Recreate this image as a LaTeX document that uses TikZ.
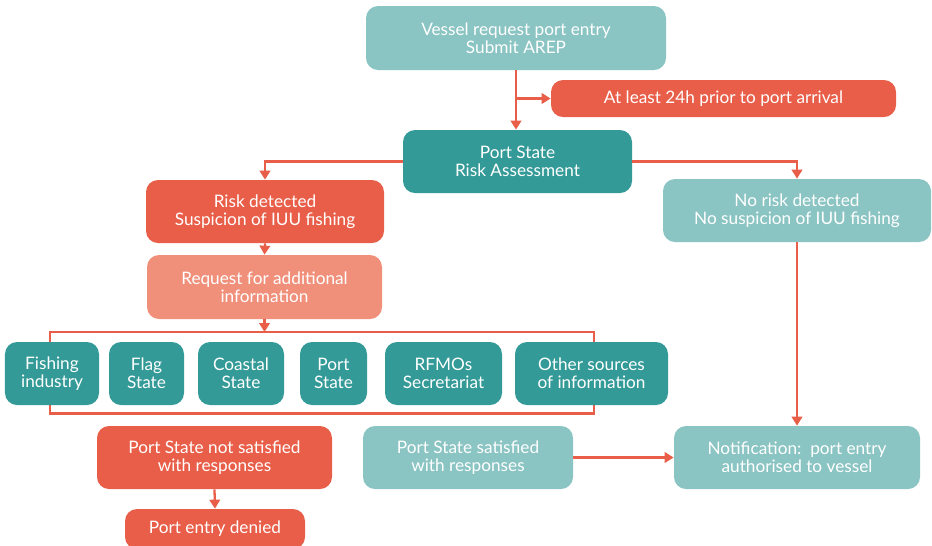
\documentclass[tikz,border=0pt]{standalone}
\usepackage{fontspec}
\setmainfont{Lato}
\usetikzlibrary{arrows.meta}
\definecolor{lteal}{HTML}{8AC4C3}
\definecolor{dteal}{HTML}{339A98}
\definecolor{redbox}{HTML}{E95E48}
\definecolor{salmon}{HTML}{F0907A}
\definecolor{flowline}{HTML}{E95E48}

\begin{document}
\begin{tikzpicture}[
  box/.style={rectangle, rounded corners=0.24cm, text=white, align=center,
              minimum height=1.26cm, font=\fontsize{9.8}{10.4}\selectfont, inner sep=2pt},
  light/.style={box, fill=lteal},
  dark/.style={box, fill=dteal},
  alert/.style={box, fill=redbox},
  soft/.style={box, fill=salmon},
  src/.style={dark, minimum height=1.26cm},
  flow/.style={draw=flowline, line width=1.3pt, -{Triangle[length=1.8mm, width=2.1mm]}},
  frame/.style={draw=flowline, line width=1.3pt},
]
\useasboundingbox (0,0) rectangle (18.64,-10.90);
% bracket round the sources (drawn first, boxes sit on top)
\coordinate (brtl) at (1.0,-6.64);
\coordinate (brbr) at (11.88,-8.27);
\draw[frame] (brtl) rectangle (brbr);
\node[light, minimum width=6.0cm, minimum height=1.28cm] (vessel) at (10.32,-0.76) {Vessel request port entry\\Submit AREP};
\node[alert, minimum width=6.9cm, minimum height=0.74cm] (atleast) at (14.47,-1.97) {At least 24h prior to port arrival};
\node[dark, minimum width=4.58cm] (psra) at (10.35,-3.23) {Port State\\Risk Assessment};
\node[alert, minimum width=4.76cm] (risk) at (5.30,-4.23) {Risk detected\\Suspicion of IUU fishing};
\node[light, minimum width=5.36cm] (norisk) at (15.94,-4.21) {No risk detected\\No suspicion of IUU fishing};
\node[soft, minimum width=4.70cm, minimum height=1.28cm] (request) at (5.29,-5.74) {Request for additional\\information};
\node[src, minimum width=1.88cm] (fishing) at (1.04,-7.47) {Fishing\\industry};
\node[src, minimum width=1.50cm] (flag) at (2.93,-7.47) {Flag\\State};
\node[src, minimum width=1.72cm] (coastal) at (4.82,-7.47) {Coastal\\State};
\node[src, minimum width=1.34cm] (portst) at (6.67,-7.47) {Port\\State};
\node[src, minimum width=2.34cm] (rfmo) at (8.87,-7.47) {RFMOs\\Secretariat};
\node[src, minimum width=3.06cm] (other) at (11.83,-7.47) {Other sources\\of information};
\node[alert, minimum width=4.70cm] (notsat) at (4.29,-9.15) {Port State not satisfied\\with responses};
\node[alert, minimum width=3.60cm, minimum height=0.80cm] (denied) at (4.30,-10.58) {Port entry denied};
\node[light, minimum width=4.20cm] (sat) at (9.36,-9.15) {Port State satisfied\\with responses};
\node[light, minimum width=4.92cm] (notif) at (15.94,-9.15) {Notification:\ \ port entry\\authorised to vessel};
\draw[flow] (vessel.south) -- (vessel.south |- psra.north);
\draw[flow] (vessel.south |- atleast.west) -- (atleast.west);
\draw[flow] (psra.west) -| (risk.north);
\draw[flow] (psra.east) -| (norisk.north);
\draw[flow] (risk.south) -- (request.north);
\draw[flow] (request.south) -- (request.south |- brtl);
\draw[flow] (norisk.south) -- (notif.north);
\draw[flow] (sat.east) -- (notif.west);
\draw[flow] (notsat.south) -- (denied.north);
\end{tikzpicture}
\end{document}
